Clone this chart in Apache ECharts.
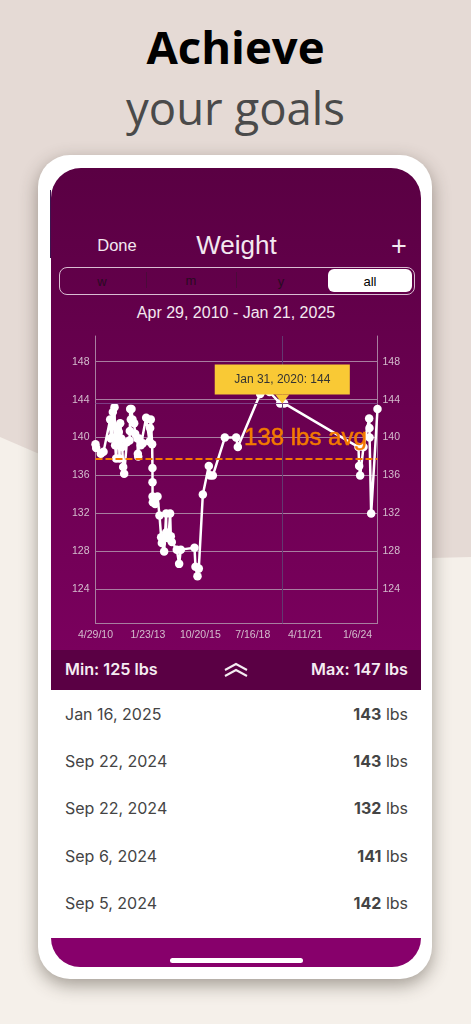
<!DOCTYPE html>
<html>
<head>
<meta charset="utf-8">
<script src="https://cdn.jsdelivr.net/npm/echarts@6/dist/echarts.min.js"></script>
<style>
  html, body { margin: 0; padding: 0; width: 471px; height: 1024px; overflow: hidden; background: #f5f0ea; }
  div, span { position: absolute; white-space: nowrap; }
  #bgTop { left: 0; top: 0; width: 471px; height: 1024px; background: #e5dad5;
    clip-path: polygon(0 0, 471px 0, 471px 557px, 432px 558px, 37px 453px, 0 437px); }
  .head { left: 0; width: 471px; text-align: center; font-family: "Open Sans", sans-serif; }
  #phone { left: 38px; top: 155px; width: 394px; height: 824px; background: #fff; border-radius: 32px;
    box-shadow: 0 6px 18px rgba(60, 50, 40, .45); }
  #panel { left: 50.5px; top: 168px; width: 370.5px; height: 482px; border-radius: 30px 30px 0 0;
    background: linear-gradient(#5a0043 0%, #7a005d 100%); }
  #sliver { left: 50px; top: 190px; width: 1px; height: 68px; background: #3c1450; }
  #bar { left: 50.5px; top: 650px; width: 370.5px; height: 40px; background: #5a0044; }
  #band { left: 50.5px; top: 938px; width: 370.5px; height: 29px; background: #87006b; border-radius: 0 0 30px 30px; }
  #home { left: 170px; top: 958px; width: 133px; height: 5px; background: #fff; border-radius: 3px; }
  #chart { left: 0; top: 0; width: 471px; height: 1024px; }
  #list { left: 0; top: 0; width: 471px; height: 1024px; }
  .t { font-family: "Liberation Sans", Arial, sans-serif; color: #f3e8f0; transform: translate(-50%, -50%); }
  .seg { font-size: 13px; color: #2a0a22; }
  #segBox { left: 58.5px; top: 267px; width: 354px; height: 26px; border: 1px solid #d9bdd2; border-radius: 8px; }
  #segAll { left: 327.5px; top: 269px; width: 84.5px; height: 23px; background: #fff; border-radius: 6px; }
  .sep { top: 272px; width: 1px; height: 16px; background: #4b0a3a; }
  .rowL, .rowR, .mm { font-family: Inter, "Noto Sans", sans-serif; transform: translateY(-50%); }
  .rowL { left: 65px; font-size: 16px; color: #444; }
  .rowR { right: 63px; font-size: 16px; color: #444; }
  .rowR b { font-weight: 700; }
  .mm { font-size: 16.2px; font-weight: 600; color: #f5ecf2; }
</style>
</head>
<body>
<div id="bgTop"></div>
<div class="head" style="top:14px;font-size:45.5px;font-weight:700;color:#000;line-height:64px">Achieve</div>
<div class="head" style="top:75px;font-size:45.5px;font-weight:400;color:#4a4a4a;line-height:64px">your goals</div>
<div id="phone"></div>
<div id="panel"></div>
<div id="sliver"></div>
<div id="bar"></div>
<div id="band"></div>
<div id="home"></div>

<div class="t" style="left:117px;top:245px;font-size:16.5px">Done</div>
<div class="t" style="left:236.5px;top:245px;font-size:26px">Weight</div>
<div class="t" style="left:399px;top:246px;font-size:27px">+</div>
<div id="segBox"></div>
<div id="segAll"></div>
<div class="sep" style="left:146px"></div>
<div class="sep" style="left:236px"></div>
<div class="t seg" style="left:102px;top:281px">w</div>
<div class="t seg" style="left:191px;top:280px">m</div>
<div class="t seg" style="left:281px;top:281px">y</div>
<div class="t seg" style="left:370px;top:280.5px;color:#000">all</div>
<div class="t" style="left:236px;top:313px;font-size:16px">Apr 29, 2010 - Jan 21, 2025</div>

<div class="mm" style="left:65px;top:669px">Min: 125 lbs</div>
<div class="mm" style="right:63px;top:669px">Max: 147 lbs</div>
<svg style="position:absolute;left:223px;top:662px" width="26" height="16" viewBox="0 0 26 16">
  <polyline points="2,8 13,2 24,8" fill="none" stroke="#f5ecf2" stroke-width="2"/>
  <polyline points="2,14 13,8 24,14" fill="none" stroke="#f5ecf2" stroke-width="2"/>
</svg>
<div id="list"></div>

<div id="chart"></div>

<script>
// 体重数据，横轴是距 2010-04-29 的天数
var dayOffsets = [0, 13, 102, 153, 280, 293, 305, 318, 331, 363, 375, 394, 420, 439, 445, 458, 471, 490, 510, 528, 547, 598, 649, 655, 662, 675, 687, 706, 738, 757, 801, 808, 815, 833, 865, 903, 967, 1030, 1043, 1055, 1081, 1087, 1088, 1089, 1094, 1138, 1183, 1221, 1253, 1266, 1310, 1348, 1349, 1392, 1424, 1437, 1456, 1551, 1596, 1628, 1889, 1908, 1946, 1971, 2048, 2162, 2188, 2239, 2468, 2684, 2716, 3142, 3320, 3524, 3600, 5018, 5031, 5050, 5114, 5222, 5228, 5230, 5260, 5381];
var weights = [139.3, 138.9, 138.3, 138.5, 141.9, 139.9, 141.8, 140, 142.7, 143.2, 139.2, 137.8, 141, 139.2, 140.6, 137.8, 141.5, 139.9, 139, 136.9, 136.2, 139.5, 139.7, 140.7, 143, 141.9, 143, 141.9, 141.5, 140.4, 139.9, 138.3, 138, 139.9, 139.2, 139.4, 142.1, 139.6, 141, 141.9, 139.3, 136.8, 135.3, 133.8, 133.2, 133, 133.8, 131.8, 129.5, 128.9, 128, 132, 130, 129.4, 132, 129.6, 129, 128.2, 126.7, 128.2, 128.4, 126.4, 125.4, 126.2, 134, 137, 136, 136, 140, 140, 139, 144.6, 144.8, 143.6, 143.6, 139, 137, 136, 139, 142, 141, 140, 132, 143];
var yTicks = [124, 128, 132, 136, 140, 144, 148];
var avgWeight = 137.8;
var selectedDay = 3564;
var selectedWeight = 143.6;
var selectedLabel = 'Jan 31, 2020: 144';
var avgLabel = '138 lbs avg';

var listDates = ['Jan 16, 2025', 'Sep 22, 2024', 'Sep 22, 2024', 'Sep 6, 2024', 'Sep 5, 2024'];
var listWeights = [143, 143, 132, 141, 142];
var listTops = [714, 761, 808, 855.5, 903];

// 下面的列表
var listHtml = '';
listDates.forEach(function (d, i) {
  listHtml += '<div class="rowL" style="top:' + listTops[i] + 'px">' + d + '</div>';
  listHtml += '<div class="rowR" style="top:' + listTops[i] + 'px"><b>' + listWeights[i] + '</b> lbs</div>';
});
document.getElementById('list').innerHTML = listHtml;

function dayLabel(days) {
  var d = new Date(2010, 3, 29 + days);
  return (d.getMonth() + 1) + '/' + d.getDate() + '/' + String(d.getFullYear()).slice(2);
}

var axisColor = '#a87ea0';
var labelStyle = { color: '#d3bccd', fontSize: 10.5, fontFamily: 'Liberation Sans' };

function yAxisOf(pos, margin, split) {
  return {
    type: 'value',
    position: pos,
    min: 120.42,
    max: 150.7,
    axisLine: { show: true, lineStyle: { color: axisColor, width: 1 } },
    axisTick: { show: false, customValues: yTicks },
    axisLabel: Object.assign({ margin: margin, customValues: yTicks }, labelStyle),
    splitLine: { show: split, customValues: yTicks, lineStyle: { color: axisColor, width: 1 } }
  };
}

var myChart = echarts.init(document.getElementById('chart'), null, { renderer: 'canvas' });
var option = {
  animation: false,
  backgroundColor: 'transparent',
  grid: { left: 95.5, top: 336, width: 282, height: 287.5 },
  xAxis: {
    type: 'value',
    min: 0,
    max: 5381,
    interval: 1000,
    splitLine: { show: false },
    axisTick: { show: false },
    axisLine: { show: true, onZero: false, lineStyle: { color: axisColor, width: 1 } },
    axisLabel: Object.assign({
      margin: 6,
      showMaxLabel: false,
      formatter: function (v) { return v % 1000 === 0 ? dayLabel(v) : ''; }
    }, labelStyle)
  },
  yAxis: [yAxisOf('left', 6, true), yAxisOf('right', 5, false)],
  series: [{
    type: 'line',
    data: dayOffsets.map(function (d, i) { return [d, weights[i]]; }),
    symbol: 'circle',
    symbolSize: 8.5,
    showAllSymbol: true,
    clip: false,
    itemStyle: { color: '#fff' },
    lineStyle: { color: '#fff', width: 2.5 },
    markLine: {
      silent: true,
      symbol: 'none',
      label: { show: false },
      data: [
        { yAxis: avgWeight, lineStyle: { color: '#f47a00', type: [7, 3], width: 2 } },
        { xAxis: selectedDay, lineStyle: { color: '#63386f', type: 'solid', width: 1 } },
        { yAxis: selectedWeight, lineStyle: { color: '#7d3f86', type: 'solid', width: 1 } }
      ]
    },
    markPoint: {
      silent: true,
      z: 20,
      data: [
        {
          coord: [4006, 139.9],
          symbol: 'circle',
          symbolSize: 1,
          itemStyle: { color: 'transparent' },
          label: {
            show: true, position: 'inside', formatter: avgLabel,
            color: '#f47a00', fontSize: 24, fontFamily: 'Liberation Sans',
            textBorderColor: '#f47a00', textBorderWidth: 0.5
          }
        },
        {
          coord: [selectedDay, selectedWeight],
          symbol: 'triangle',
          symbolRotate: 180,
          symbolSize: [14, 9],
          symbolOffset: [0, -4.5],
          itemStyle: { color: '#f9c935' },
          label: {
            show: true, position: 'top', distance: 0, formatter: selectedLabel,
            color: '#333', fontSize: 12, fontFamily: 'Liberation Sans',
            backgroundColor: '#f9c935', padding: [9, 19.5]
          }
        }
      ]
    }
  }]
};
myChart.setOption(option);
</script>
</body>
</html>
